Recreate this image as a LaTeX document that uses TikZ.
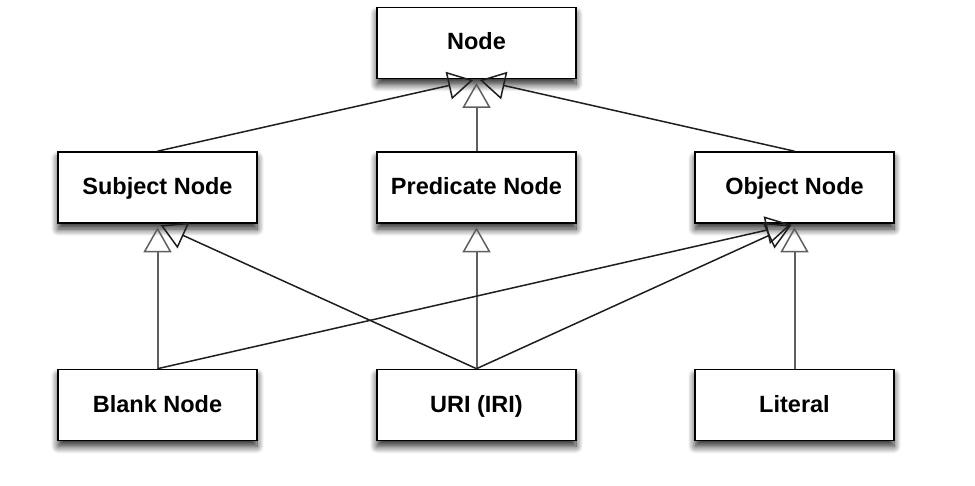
\documentclass[tikz,border=0pt]{standalone}
\usepackage{fontspec}
\setmainfont{Liberation Sans}
\usetikzlibrary{arrows.meta,shadows.blur}
\begin{document}
\begin{tikzpicture}[x=1pt,y=-1pt,
  box/.style={draw=black, line width=1.6pt, fill=white, minimum width=199pt, minimum height=71pt,
    inner sep=0pt, text height=18pt, text depth=4pt, font=\fontsize{23.5}{28}\selectfont\bfseries,
    blur shadow={shadow xshift=0pt, shadow yshift=-6pt, shadow blur radius=7pt, shadow blur steps=10, shadow opacity=85}},
  gen/.style={draw={rgb,255:red,30;green,30;blue,30}, line width=1.5pt,
    -{Triangle[open, length=25pt, width=28pt, line width=1.5pt]}, shorten >=3.5pt},
  genv/.style={gen, draw={rgb,255:red,95;green,95;blue,95}, line width=2pt}
]
\useasboundingbox (0,0) rectangle (975,486);
\node[box] (node) at (476.5,43) {Node};
\node[box] (subj) at (157.5,187.5) {Subject Node};
\node[box] (pred) at (476.5,187.5) {Predicate Node};
\node[box] (obj) at (794.5,187.5) {Object Node};
\node[box] (blank) at (157.5,405) {Blank Node};
\node[box] (uri) at (476.5,405) {URI (IRI)};
\node[box] (lit) at (794.5,405) {Literal};

\draw[gen] (subj.north) -- (node.south);
\draw[genv] (pred.north) -- (node.south);
\draw[gen] (obj.north) -- (node.south);

\draw[genv] (blank.north) -- (subj.south);
\draw[gen] (uri.north) -- (subj.south);
\draw[genv] (uri.north) -- (pred.south);
\draw[gen] (blank.north) -- (obj.south);
\draw[gen] (uri.north) -- (obj.south);
\draw[genv] (lit.north) -- (obj.south);
\end{tikzpicture}
\end{document}
